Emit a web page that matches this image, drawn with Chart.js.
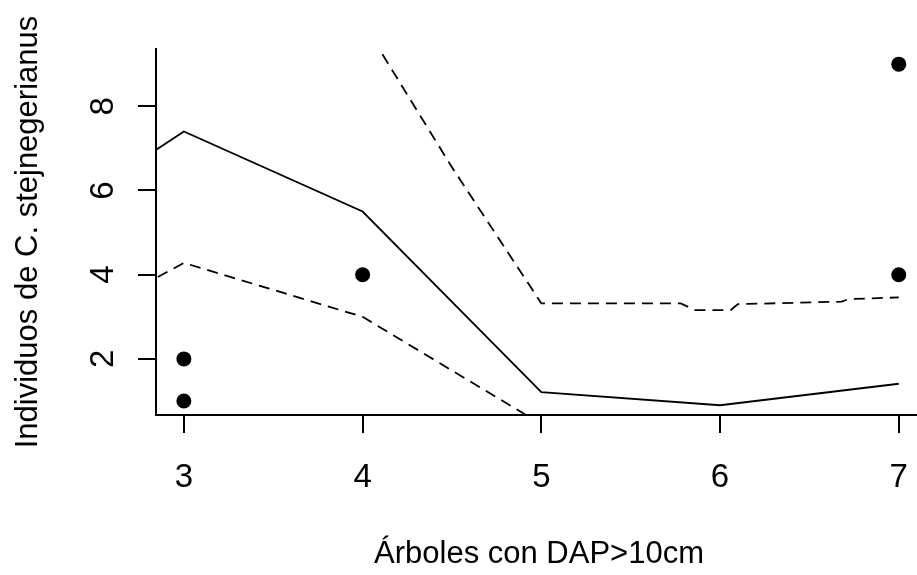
<!DOCTYPE html>
<html>
<head>
<meta charset="utf-8">
<script src="https://cdn.jsdelivr.net/npm/chart.js@4/dist/chart.umd.min.js"></script>
<style>
  body { margin: 0; background: #fff; }
  canvas { display: block; }
</style>
</head>
<body>
<canvas id="plot" width="917" height="575"></canvas>
<script>
// observed counts
const obsX = [3, 3, 4, 7, 7];
const obsY = [1, 2, 4, 4, 9];

// fitted curve (solid)
const fitX = [2.5, 3, 4, 5, 6, 7];
const fitY = [6.0, 7.40, 5.50, 1.21, 0.90, 1.41];

// lower band (dashed)
const lowX = [2.5, 3, 4, 5, 6, 7];
const lowY = [3.13, 4.28, 3.00, 0.45, 0.25, 0.57];

// upper band (dashed)
const upX = [3, 4, 4.5, 5, 5.78, 5.86, 6.06, 6.1, 6.68, 6.72, 7];
const upY = [12.8, 10.0, 6.55, 3.32, 3.32, 3.16, 3.16, 3.30, 3.36, 3.42, 3.46];

const xTicks = [3, 4, 5, 6, 7];
const yTicks = [2, 4, 6, 8];
const xTitle = 'Árboles con DAP>10cm';
const yTitle = 'Individuos de C. stejnegerianus';

function pts(xs, ys) {
    return xs.map((v, i) => ({x: v, y: ys[i]}));
}

const rLabels = {
    id: 'rLabels',
    afterDraw(chart) {
        const ctx = chart.ctx;
        const x = chart.scales.x;
        const y = chart.scales.y;
        ctx.save();
        ctx.fillStyle = '#000';
        ctx.textAlign = 'center';
        ctx.textBaseline = 'alphabetic';
        ctx.font = '33px "Liberation Sans", Arial, sans-serif';
        xTicks.forEach(v => ctx.fillText(String(v), x.getPixelForValue(v), 487));
        yTicks.forEach(v => {
            ctx.save();
            ctx.translate(113, y.getPixelForValue(v));
            ctx.rotate(-Math.PI / 2);
            ctx.fillText(String(v), 0, 0);
            ctx.restore();
        });
        ctx.font = '31px "Liberation Sans", Arial, sans-serif';
        ctx.fillText(xTitle, 539, 563);
        ctx.translate(37, 232);
        ctx.rotate(-Math.PI / 2);
        ctx.fillText(yTitle, 0, 0);
        ctx.restore();
    }
};

const lineStyle = {
    showLine: true,
    pointRadius: 0,
    borderColor: '#000',
    borderWidth: 1.8,
    fill: false,
    tension: 0,
    clip: 0
};

new Chart(document.getElementById('plot').getContext('2d'), {
    type: 'scatter',
    data: {
        datasets: [
            {
                label: 'obs',
                data: pts(obsX, obsY),
                pointRadius: 7.5,
                backgroundColor: '#000',
                borderColor: '#000',
                borderWidth: 0
            },
            Object.assign({label: 'fit', data: pts(fitX, fitY)}, lineStyle),
            Object.assign({label: 'low', data: pts(lowX, lowY), borderDash: [11, 7]}, lineStyle),
            Object.assign({label: 'up', data: pts(upX, upY), borderDash: [11, 7]}, lineStyle)
        ]
    },
    options: {
        responsive: false,
        animation: false,
        devicePixelRatio: 1,
        layout: { autoPadding: false, padding: { top: 49, left: 0, right: 0, bottom: 0 } },
        plugins: { legend: { display: false }, tooltip: { enabled: false } },
        scales: {
            x: {
                type: 'linear',
                min: 2.844,
                max: 7.102,
                afterBuildTicks: s => { s.ticks = xTicks.map(v => ({value: v})); },
                afterFit: s => { s.height = 160; },
                ticks: { display: false },
                grid: { drawOnChartArea: false, drawTicks: true, tickLength: 18, color: '#000', lineWidth: 2 },
                border: { display: true, color: '#000', width: 2 }
            },
            y: {
                type: 'linear',
                min: 0.668,
                max: 9.36,
                afterBuildTicks: s => { s.ticks = yTicks.map(v => ({value: v})); },
                afterFit: s => { s.width = 156; },
                ticks: { display: false },
                grid: { drawOnChartArea: false, drawTicks: true, tickLength: 18, color: '#000', lineWidth: 2 },
                border: { display: true, color: '#000', width: 2 }
            }
        }
    },
    plugins: [rLabels]
});
</script>
</body>
</html>
